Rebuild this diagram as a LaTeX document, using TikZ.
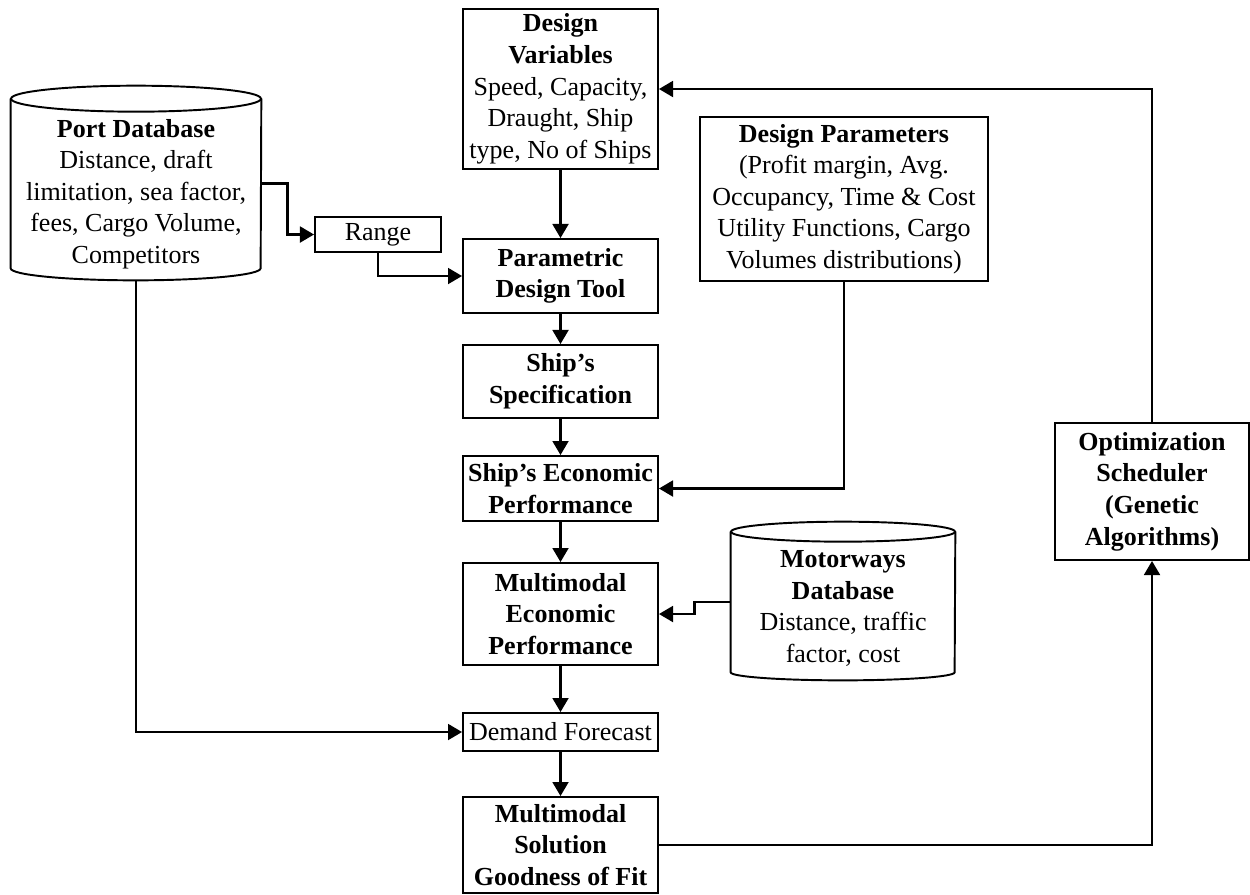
\documentclass[tikz,border=0pt]{standalone}
\usepackage{fontspec}
\setmainfont{Liberation Serif}
\usetikzlibrary{arrows.meta}
\tikzstyle{block}=[draw,line width=1.1pt,rectangle,align=center,inner sep=0pt,minimum width=3.9cm,font=\fontsize{14.8}{18}\selectfont]
\tikzstyle{title}=[block,font=\fontsize{14.8}{18}\selectfont\bfseries]
\tikzstyle{dbtext}=[align=center,inner sep=0pt,font=\fontsize{14.8}{18}\selectfont]
\tikzstyle{body}=[rectangle,inner sep=0pt]
\tikzstyle{drum}=[draw,line width=1.1pt]
\tikzstyle{arr}=[draw,line width=1.4pt,-{Triangle[length=8pt,width=9pt]}]

\begin{document}
\begin{tikzpicture}[x=0.02cm,y=-0.02cm]
    \useasboundingbox (0,0) rectangle (1250,894);

    % main column
    \node[block,minimum height=3.2cm] (dvar) at (560.5,89)
        {\textbf{Design}\\\textbf{Variables}\\Speed, Capacity,\\Draught, Ship\\type, No of Ships};
    \foreach \pos/\name/\boxh/\val in {{(560.5,276)/pdt/1.48/Parametric\\Design Tool},
    {(560.5,381.5)/spec/1.46/Ship’s\\Specification},
    {(560.5,488.5)/sep/1.30/Ship’s Economic\\Performance},
    {(560.5,614)/mep/2.04/Multimodal\\Economic\\Performance},
    {(560.5,845)/fit/1.92/Multimodal\\Solution\\Goodness of Fit}}
        \node[title,minimum height=\boxh cm] (\name) at \pos {\val};
    \node[block,minimum height=0.76cm] (dfc) at (560.5,732) {Demand Forecast};

    \node[block,minimum width=2.52cm,minimum height=0.7cm] (range) at (378,234.5) {Range};
    \node[block,minimum width=5.76cm,minimum height=3.28cm] (dpar) at (844,199)
        {\textbf{Design Parameters}\\(Profit margin, Avg.\\Occupancy, Time \& Cost\\Utility Functions, Cargo\\Volumes distributions)};
    \node[title,minimum width=3.88cm,minimum height=2.74cm] (opt) at (1152,491.5)
        {Optimization\\Scheduler\\(Genetic\\Algorithms)};

    % databases
    \node[body,minimum width=5cm,minimum height=3.38cm] (portdb) at (136,183.5) {};
    \node[dbtext] (porttxt) at (136,194)
        {\textbf{Port Database}\\Distance, draft\\limitation, sea factor,\\fees, Cargo Volume,\\Competitors};
    \draw[drum] (portdb.north west) -- (portdb.south west)
        arc[start angle=180,end angle=360,x radius=2.5cm,y radius=0.24cm] -- (portdb.north east);
    \draw[drum] (portdb.north) ellipse[x radius=2.5cm,y radius=0.26cm];

    \node[body,minimum width=4.48cm,minimum height=2.8cm] (motdb) at (843,602) {};
    \node[dbtext] (mottxt) at (843,608.5)
        {\textbf{Motorways}\\\textbf{Database}\\Distance, traffic\\factor, cost};
    \draw[drum] (motdb.north west) -- (motdb.south west)
        arc[start angle=180,end angle=360,x radius=2.24cm,y radius=0.16cm] -- (motdb.north east);
    \draw[drum] (motdb.north) ellipse[x radius=2.24cm,y radius=0.2cm];

    % connectors
    \foreach \source/\dest in {dvar/pdt,pdt/spec,spec/sep,sep/mep,mep/dfc,dfc/fit}
        \path[arr] (\source) -- (\dest);
    \path[arr] (portdb.east) -- ++(26,0) |- (range.west);
    \path[arr] (range.south) |- (pdt.west);
    \path[arr] ([yshift=-0.24cm]portdb.south) |- (dfc.west);
    \path[arr] (dpar.south) |- (sep.east);
    \path[arr] (motdb.west) -- ++(-36,0) |- (mep.east);
    \path[arr] (fit.east) -| (opt.south);
    \path[arr] (opt.north) |- (dvar.east);
\end{tikzpicture}
\end{document}
